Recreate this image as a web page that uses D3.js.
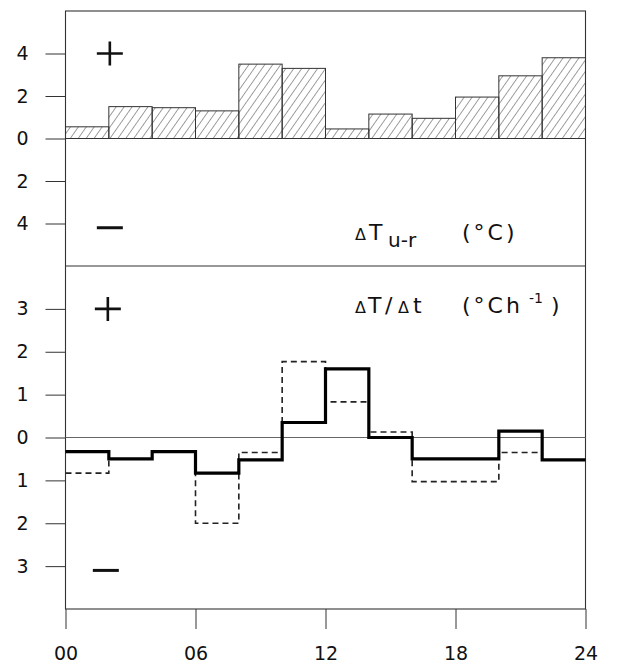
<!DOCTYPE html>
<html>
<head>
<meta charset="utf-8">
<script src="https://cdn.jsdelivr.net/npm/d3@7"></script>
<style>
  body { margin: 0; background: #fff; }
  svg { display: block; font-family: "DejaVu Sans", "Liberation Sans", sans-serif; }
  .tick text { font-size: 19px; fill: #111; font-family: "DejaVu Sans", sans-serif; }
</style>
</head>
<body>
<svg id="chart"></svg>
<script>
// 2-hour bins, start hour of each bin
const binStarts = [0, 2, 4, 6, 8, 10, 12, 14, 16, 18, 20, 22]
// urban-rural temperature difference (°C)
const tempDiff = [0.55, 1.5, 1.45, 1.3, 3.5, 3.3, 0.45, 1.15, 0.95, 1.95, 2.95, 3.8]
// rate of temperature change (°C per hour), solid and dashed series
const rateSolid = [-0.33, -0.5, -0.33, -0.83, -0.52, 0.35, 1.6, 0, -0.5, -0.5, 0.15, -0.52]
const rateDashed = [-0.83, -0.5, -0.33, -2.0, -0.35, 1.77, 0.83, 0.13, -1.03, -1.03, -0.35, -0.52]
// tick values
const hourTicks = [0, 6, 12, 18, 24]
const hourLabels = ["00", "06", "12", "18", "24"]
const tempTicks = [4, 2, 0, -2, -4]
const rateTicks = [3, 2, 1, 0, -1, -2, -3]

const width = 618,
    height = 666

const svg = d3.select("#chart")
    .attr("width", width)
    .attr("height", height)

const x = d3.scaleLinear().domain([0, 24]).range([65.5, 585.5])
const yTop = d3.scaleLinear().domain([-6, 6]).range([266, 11])
const yBot = d3.scaleLinear().domain([-4, 4]).range([609, 266])

const ink = "#333"

// hatch for upper bars
const defs = svg.append("defs")
defs.append("pattern")
    .attr("id", "hatch")
    .attr("patternUnits", "userSpaceOnUse")
    .attr("width", 6.5)
    .attr("height", 10)
    .attr("patternTransform", "rotate(35)")
    .append("line")
    .attr("x1", 0).attr("y1", 0)
    .attr("x2", 0).attr("y2", 10)
    .attr("stroke", "#222")
    .attr("stroke-width", 0.9)

// frame
svg.append("rect")
    .attr("x", x(0)).attr("y", yTop(6))
    .attr("width", x(24) - x(0))
    .attr("height", yBot(-4) - yTop(6))
    .attr("fill", "none")
    .attr("stroke", ink)
    .attr("stroke-width", 1.1)

svg.append("line")
    .attr("x1", x(0)).attr("x2", x(24))
    .attr("y1", yTop(-6)).attr("y2", yTop(-6))
    .attr("stroke", ink).attr("stroke-width", 1.1)

// zero lines
svg.append("line")
    .attr("x1", x(0)).attr("x2", x(24))
    .attr("y1", yTop(0)).attr("y2", yTop(0))
    .attr("stroke", ink).attr("stroke-width", 1)
svg.append("line")
    .attr("x1", x(0)).attr("x2", x(24))
    .attr("y1", yBot(0)).attr("y2", yBot(0))
    .attr("stroke", "#666").attr("stroke-width", 1)

// axes
const styleAxis = g => {
    g.attr("font-family", null).attr("font-size", null)
    g.select(".domain").remove()
    g.selectAll(".tick line").attr("stroke", ink).attr("stroke-width", 1)
}

svg.append("g")
    .attr("transform", `translate(${x(0)},0)`)
    .call(d3.axisLeft(yTop).tickValues(tempTicks)
        .tickFormat(d => Math.abs(d)).tickSize(20).tickPadding(17))
    .call(styleAxis)

svg.append("g")
    .attr("transform", `translate(${x(0)},0)`)
    .call(d3.axisLeft(yBot).tickValues(rateTicks)
        .tickFormat(d => Math.abs(d)).tickSize(20).tickPadding(17))
    .call(styleAxis)

svg.append("g")
    .attr("transform", `translate(0,${yBot(-4)})`)
    .call(d3.axisBottom(x).tickValues(hourTicks)
        .tickFormat((d, i) => hourLabels[i]).tickSize(20).tickPadding(18))
    .call(styleAxis)

// upper hatched bars
svg.append("g")
    .selectAll("rect")
    .data(tempDiff)
    .enter()
    .append("rect")
    .attr("x", (d, i) => x(binStarts[i]))
    .attr("y", d => yTop(d))
    .attr("width", (d, i) => x(binStarts[i] + 2) - x(binStarts[i]))
    .attr("height", d => yTop(0) - yTop(d))
    .attr("fill", "url(#hatch)")
    .attr("stroke", ink)
    .attr("stroke-width", 1)

// lower step lines
const stepPoints = vals => vals.map((v, i) => [binStarts[i], v])
    .concat([[24, vals[vals.length - 1]]])

const step = d3.line()
    .x(d => x(d[0]))
    .y(d => yBot(d[1]))
    .curve(d3.curveStepAfter)

svg.append("path")
    .attr("d", step(stepPoints(rateDashed)))
    .attr("fill", "none")
    .attr("stroke", "#222")
    .attr("stroke-width", 1.6)
    .attr("stroke-dasharray", "6,4")

svg.append("path")
    .attr("d", step(stepPoints(rateSolid)))
    .attr("fill", "none")
    .attr("stroke", "#000")
    .attr("stroke-width", 3.2)

// plus / minus signs
const plus = (cx, cy) => {
    svg.append("path")
        .attr("d", `M${cx - 13},${cy}H${cx + 13}M${cx},${cy - 12}V${cy + 12}`)
        .attr("stroke", "#111").attr("stroke-width", 2.6)
}
const minus = (cx, cy) => {
    svg.append("path")
        .attr("d", `M${cx - 13},${cy}H${cx + 13}`)
        .attr("stroke", "#111").attr("stroke-width", 3)
}
plus(x(2) + 1, yTop(4))
minus(x(2) + 1, yTop(-4.2))
plus(x(2) - 1, yBot(3))
minus(x(2) - 3, yBot(-3.1))

// panel labels
const label = svg.append("g").attr("fill", "#111")

const upper = label.append("text").attr("y", 240).attr("font-size", 22)
upper.append("tspan").attr("x", 355).attr("font-size", 16).text("Δ")
upper.append("tspan").attr("x", 369).text("T")
upper.append("tspan").attr("x", 388).attr("dy", 7).attr("font-size", 20).text("u-r")
upper.append("tspan").attr("x", 462).attr("dy", -7).attr("letter-spacing", 3).text("(°C)")

const lower = label.append("text").attr("y", 313).attr("font-size", 22)
lower.append("tspan").attr("x", 355).attr("font-size", 16).text("Δ")
lower.append("tspan").attr("x", 368).text("T")
lower.append("tspan").attr("x", 385).text("/")
lower.append("tspan").attr("x", 398).attr("font-size", 16).text("Δ")
lower.append("tspan").attr("x", 413).text("t")
lower.append("tspan").attr("x", 462).attr("letter-spacing", 3).text("(°Ch")
lower.append("tspan").attr("x", 529).attr("dy", -10).attr("font-size", 14).text("-1")
lower.append("tspan").attr("x", 551).attr("dy", 10).text(")")
</script>
</body>
</html>
